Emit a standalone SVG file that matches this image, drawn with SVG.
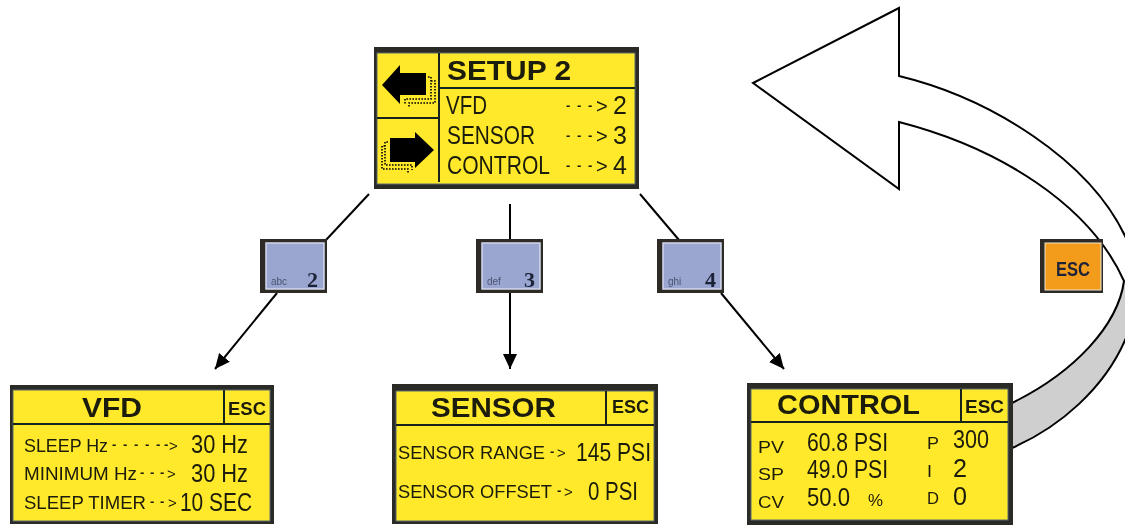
<svg xmlns="http://www.w3.org/2000/svg" width="1125" height="525" viewBox="0 0 1125 525">
<defs>
<marker id="ah" markerWidth="16" markerHeight="16" refX="15" refY="8" orient="auto" markerUnits="userSpaceOnUse"><path d="M0 1L15 8L0 15Z" fill="#000"/></marker>
<filter id="soft" x="-5%" y="-5%" width="110%" height="110%"><feGaussianBlur stdDeviation="0.45"/></filter>
</defs>
<style>
text{font-family:"Liberation Sans",Arial,sans-serif;fill:#1a1a0a}
.panel{fill:#2a2a28}
.lcd{fill:#ffe92b;stroke:#5a6a70;stroke-width:1}
.div{stroke:#16201f;stroke-width:2;fill:none}
.t{font-weight:700;font-size:28px}
.m{font-size:25px}
.s{font-size:19px}
.xs{font-size:17px}
.esc{font-weight:700;font-size:18px}
.d{font-size:13px;font-weight:700}
.a{font-size:15px}
.conn{stroke:#000;stroke-width:2;fill:none}
.key{fill:#9aa6d0;stroke:#d3d8ec;stroke-width:1.5}
.keyo{fill:#2e2c28}
.num{font-family:"Liberation Serif",serif;font-weight:700;font-size:22px;fill:#1c2238}
.sub{font-size:10px;fill:#4a5270}
.big{fill:none;stroke:#000;stroke-width:2}
.dot{fill:none;stroke:#000;stroke-width:1.6;stroke-dasharray:1.6 1.4}
</style>
<g id="return-arrow">
<path d="M1125 281H1124C1118 325 1075 372 1012 403V448C1060 427 1105 388 1125 340Z" fill="#cfcfcf"/>
<path class="big" d="M1012 403C1075 372 1118 325 1124 281C1090 205 1000 148 899 122V189L753 83L899 8V76C990 98 1090 160 1126 238"/>
<path class="big" d="M1012 448C1060 427 1105 388 1126 338"/>
</g>
<g id="connectors">
<line class="conn" x1="369" y1="194" x2="326" y2="240"/>
<line class="conn" x1="277" y1="293" x2="215" y2="369" marker-end="url(#ah)"/>
<line class="conn" x1="510" y1="204" x2="510" y2="239"/>
<line class="conn" x1="510" y1="293" x2="510" y2="369" marker-end="url(#ah)"/>
<line class="conn" x1="640" y1="194" x2="679" y2="240"/>
<line class="conn" x1="721" y1="293" x2="784" y2="369" marker-end="url(#ah)"/>
</g>
<g id="setup2" filter="url(#soft)">
<rect class="panel" x="374" y="47" width="265" height="142"/>
<rect class="lcd" x="377" y="53" width="258" height="131"/>
<path class="div" d="M439 53V182M439 88H635M377 118H439"/>
<path d="M382 85L400 65V73H426V95H400V104Z" fill="#000"/>
<path class="dot" d="M428 77H431V99H405V105M431 81H435V103H409V107"/>
<path d="M434 150L415 132V138H390V162H415V168Z" fill="#000"/>
<path class="dot" d="M388 142H385V165H412V170M385 146H382V169H408V173"/>
<text class="t" x="447" y="80" textLength="124" lengthAdjust="spacingAndGlyphs">SETUP 2</text>
<text class="m" x="446" y="114" textLength="41" lengthAdjust="spacingAndGlyphs">VFD</text>
<text class="m" x="447" y="144" textLength="88" lengthAdjust="spacingAndGlyphs">SENSOR</text>
<text class="m" x="447" y="174" textLength="103" lengthAdjust="spacingAndGlyphs">CONTROL</text>
<text class="m" y="114"><tspan class="d" x="566 577 588" y="110">---</tspan><tspan class="m" x="596" y="113" font-size="20" style="font-size:20px">&gt;</tspan><tspan x="613" y="114">2</tspan></text>
<text class="m" y="144"><tspan class="d" x="566 577 588" y="140">---</tspan><tspan class="m" x="596" y="143" style="font-size:20px">&gt;</tspan><tspan x="613" y="144">3</tspan></text>
<text class="m" y="174"><tspan class="d" x="566 577 588" y="170">---</tspan><tspan class="m" x="596" y="173" style="font-size:20px">&gt;</tspan><tspan x="613" y="174">4</tspan></text>
</g>
<g id="key2" filter="url(#soft)">
<rect class="keyo" x="260" y="239" width="67" height="54"/>
<rect class="key" x="266" y="243" width="58" height="46"/>
<text class="sub" x="271" y="285">abc</text><text class="num" x="307" y="287">2</text>
</g>
<g id="key3" filter="url(#soft)">
<rect class="keyo" x="476" y="239" width="67" height="54"/>
<rect class="key" x="482" y="243" width="58" height="46"/>
<text class="sub" x="487" y="285">def</text><text class="num" x="524" y="287">3</text>
</g>
<g id="key4" filter="url(#soft)">
<rect class="keyo" x="657" y="239" width="67" height="54"/>
<rect class="key" x="663" y="243" width="58" height="46"/>
<text class="sub" x="668" y="285">ghi</text><text class="num" x="705" y="287">4</text>
</g>
<g id="key-esc" filter="url(#soft)">
<rect class="keyo" x="1040" y="239" width="63" height="54"/>
<rect x="1045" y="243" width="56" height="47" fill="#f39c1f" stroke="#efe6cf" stroke-width="1"/>
<text x="1056" y="276" font-weight="700" font-size="21" textLength="34" lengthAdjust="spacingAndGlyphs" style="fill:#1c2238">ESC</text>
</g>
<g id="vfd" filter="url(#soft)">
<rect class="panel" x="10" y="385" width="264" height="139"/>
<rect class="lcd" x="13" y="390" width="257" height="131"/>
<path class="div" d="M13 424H270M224 390V424"/>
<text class="t" x="82" y="417" textLength="60" lengthAdjust="spacingAndGlyphs">VFD</text>
<text class="esc" x="228" y="415" textLength="38" lengthAdjust="spacingAndGlyphs">ESC</text>
<text class="s" x="24" y="452" textLength="84" lengthAdjust="spacingAndGlyphs">SLEEP Hz</text>
<text class="d" x="112 123 134 145 156 164" y="449">------</text><text class="a" x="169" y="451">&gt;</text>
<text class="m" x="191" y="453" textLength="57" lengthAdjust="spacingAndGlyphs">30 Hz</text>
<text class="s" x="24" y="480" textLength="113" lengthAdjust="spacingAndGlyphs">MINIMUM Hz</text>
<text class="d" x="140 150 160" y="477">---</text><text class="a" x="167" y="479">&gt;</text>
<text class="m" x="191" y="482" textLength="57" lengthAdjust="spacingAndGlyphs">30 Hz</text>
<text class="s" x="24" y="509" textLength="122" lengthAdjust="spacingAndGlyphs">SLEEP TIMER</text>
<text class="d" x="150 160" y="506">--</text><text class="a" x="168" y="508">&gt;</text>
<text class="m" x="180" y="511" textLength="72" lengthAdjust="spacingAndGlyphs">10 SEC</text>
</g>
<g id="sensor" filter="url(#soft)">
<rect class="panel" x="392" y="384" width="266" height="140"/>
<rect class="lcd" x="396" y="391" width="258" height="130"/>
<path class="div" d="M396 425H654M606 391V425"/>
<text class="t" x="431" y="417" textLength="125" lengthAdjust="spacingAndGlyphs">SENSOR</text>
<text class="esc" x="612" y="413" textLength="37" lengthAdjust="spacingAndGlyphs">ESC</text>
<text class="s" x="398" y="459" textLength="147" lengthAdjust="spacingAndGlyphs">SENSOR RANGE</text>
<text class="d" x="550" y="456">-</text><text class="a" x="557" y="458">&gt;</text>
<text class="m" x="576" y="461" textLength="75" lengthAdjust="spacingAndGlyphs">145 PSI</text>
<text class="s" x="398" y="498" textLength="154" lengthAdjust="spacingAndGlyphs">SENSOR OFFSET</text>
<text class="d" x="557" y="495">-</text><text class="a" x="564" y="497">&gt;</text>
<text class="m" x="588" y="500" textLength="50" lengthAdjust="spacingAndGlyphs">0 PSI</text>
</g>
<g id="control" filter="url(#soft)">
<rect class="panel" x="747" y="383" width="266" height="142"/>
<rect class="lcd" x="751" y="389" width="257" height="131"/>
<path class="div" d="M751 422H1008M961 389V422"/>
<text class="t" x="777" y="414" textLength="143" lengthAdjust="spacingAndGlyphs">CONTROL</text>
<text class="esc" x="965" y="413" textLength="39" lengthAdjust="spacingAndGlyphs">ESC</text>
<text class="xs" x="758" y="453" textLength="26" lengthAdjust="spacingAndGlyphs">PV</text>
<text class="m" x="807" y="451" textLength="81" lengthAdjust="spacingAndGlyphs">60.8 PSI</text>
<text class="xs" x="927" y="449" textLength="12" lengthAdjust="spacingAndGlyphs">P</text>
<text class="m" x="953" y="448" textLength="36" lengthAdjust="spacingAndGlyphs">300</text>
<text class="xs" x="758" y="480" textLength="26" lengthAdjust="spacingAndGlyphs">SP</text>
<text class="m" x="807" y="478" textLength="81" lengthAdjust="spacingAndGlyphs">49.0 PSI</text>
<text class="xs" x="927" y="477" textLength="5" lengthAdjust="spacingAndGlyphs">I</text>
<text class="m" x="953" y="477" textLength="14" lengthAdjust="spacingAndGlyphs">2</text>
<text class="xs" x="758" y="508" textLength="26" lengthAdjust="spacingAndGlyphs">CV</text>
<text class="m" x="807" y="506" textLength="43" lengthAdjust="spacingAndGlyphs">50.0</text>
<text class="xs" x="868" y="506" textLength="15" lengthAdjust="spacingAndGlyphs">%</text>
<text class="xs" x="927" y="504" textLength="12" lengthAdjust="spacingAndGlyphs">D</text>
<text class="m" x="953" y="505" textLength="14" lengthAdjust="spacingAndGlyphs">0</text>
</g>
</svg>
